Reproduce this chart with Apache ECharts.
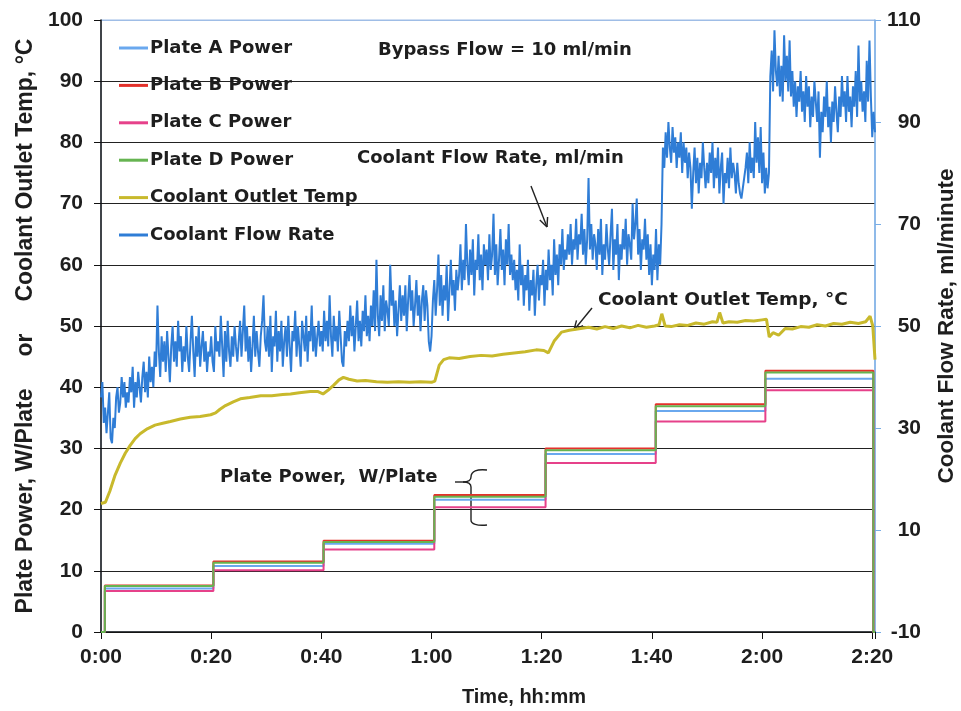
<!DOCTYPE html>
<html><head><meta charset="utf-8">
<script src="https://cdn.jsdelivr.net/npm/echarts@6/dist/echarts.min.js"></script>
<style>html,body{margin:0;padding:0;background:#fff}#c{width:961px;height:711px}</style>
</head><body><div id="c"></div>
<script>
// ---- data (time in minutes) ----
const powerTimes = [0, 0.7, 20.4, 40.4, 60.5, 80.7, 100.7, 120.6, 140.2, 140.5];
const plateA = [0, 7.1, 10.8, 14.4, 21.6, 29.1, 36.1, 41.4, 0, 0];
const plateB = [0, 7.6, 11.5, 14.9, 22.4, 30.0, 37.2, 42.7, 0, 0];
const plateC = [0, 6.7, 10.1, 13.5, 20.4, 27.6, 34.4, 39.5, 0, 0];
const plateD = [0, 7.5, 11.3, 14.7, 22.1, 29.7, 36.9, 42.4, 0, 0];

const tempTimes = [0, 0.8, 1.6, 2.5, 3.5, 4.4, 5.3, 6.2, 7.1, 8.4, 9.8, 11.2, 12.6, 14.4, 16.2, 18, 19.9, 20.8, 21.6, 22.6,
  24, 25.3, 27, 29, 31, 33, 34.4, 36, 38, 39.3, 40.3, 41.2, 42.2, 43.2, 44, 45, 46.5, 48, 50, 52,
  54, 56, 58, 60, 60.6, 61.4, 62.2, 63.2, 65, 67, 69, 71, 73, 75, 77, 79, 80.4, 81.2, 82.3, 83.6,
  85, 86.5, 88.5, 90, 91.5, 93, 94.5, 96, 97.5, 99, 100.5, 101.3, 101.8, 102.4, 103.5, 105, 106.5, 108, 109.5, 111,
  111.8, 112.3, 112.9, 114, 115.5, 117, 118.5, 120, 120.8, 121.3, 122, 123, 124.2, 125.5, 127, 128.5, 130, 131.5, 133, 134.5,
  136, 137.5, 138.8, 139.6, 140.1, 140.5];
const tempValues = [21.0, 21.2, 23.0, 25.5, 27.6, 29.2, 30.5, 31.6, 32.4, 33.2, 33.8, 34.1, 34.4, 34.8, 35.1, 35.2, 35.5, 35.8, 36.4, 37.0,
  37.6, 38.1, 38.3, 38.6, 38.6, 38.8, 38.9, 39.1, 39.3, 39.3, 38.9, 39.5, 40.3, 41.2, 41.6, 41.3, 41.0, 41.1, 40.9, 40.8,
  40.9, 40.8, 40.9, 40.8, 41.0, 43.6, 44.5, 44.8, 44.7, 45.0, 45.2, 45.1, 45.4, 45.6, 45.8, 46.1, 46.0, 45.6, 47.6, 49.0,
  49.3, 49.5, 49.8, 49.5, 49.9, 49.6, 50.0, 49.7, 50.1, 49.8, 50.0, 50.2, 52.0, 50.0, 49.9, 50.2, 50.1, 50.5, 50.3, 50.7,
  50.6, 52.2, 50.5, 50.7, 50.6, 50.9, 50.8, 51.0, 51.1, 48.2, 48.9, 48.5, 49.6, 49.5, 49.9, 49.8, 50.2, 50.0, 50.4, 50.3,
  50.6, 50.4, 50.7, 51.6, 50.0, 44.5];

// flow rate, ml/min, sampled every 0.25 min from 0:00 (one row = 5 minutes)
const flowStart = 0, flowStep = 0.25;
const flowValues = [
  36, 39, 31, 34, 29, 33, 37, 28, 27, 32, 30, 36, 38, 33, 35, 40, 36, 39, 34, 37,
  35, 40, 37, 42, 34, 39, 36, 41, 38, 35, 40, 43, 37, 41, 36, 44, 39, 42, 38, 45,
  42, 54, 45, 40, 48, 43, 47, 41, 49, 44, 39, 46, 50, 43, 47, 42, 51, 45, 48, 41,
  46, 43, 50, 44, 41, 47, 52, 45, 40, 48, 44, 50, 42, 46, 49, 43, 47, 41, 45, 44,
  48, 43, 41, 50, 45, 47, 44, 52, 46, 40, 49, 43, 51, 45, 42, 48, 44, 50, 46, 43,
  47, 51, 44, 49, 54, 45, 50, 43, 48, 41, 46, 52, 44, 49, 45, 42, 48, 51, 56, 47,
  45, 50, 44, 52, 41, 48, 46, 53, 43, 49, 45, 51, 42, 47, 50, 44, 52, 46, 41, 49,
  47, 53, 44, 50, 46, 42, 51, 48, 45, 52, 43, 49, 47, 54, 45, 50, 44, 48, 51, 46,
  49, 45, 53, 47, 51, 46, 56, 48, 44, 52, 47, 50, 45, 53, 48, 43, 42, 49, 46, 51,
  47, 54, 48, 52, 45, 50, 55, 47, 51, 46, 53, 49, 56, 48, 52, 47, 54, 50, 57, 49,
  63, 52, 48, 56, 51, 58, 49, 55, 53, 50, 62, 54, 57, 50, 55, 48, 53, 58, 51, 56,
  52, 58, 49, 55, 60, 53, 57, 50, 54, 59, 52, 56, 49, 55, 58, 51, 57, 54, 47, 45,
  48, 55, 59, 52, 57, 64, 54, 60, 52, 58, 55, 62, 51, 57, 63, 56, 59, 53, 61, 57,
  60, 66, 57, 63, 59, 70, 62, 58, 65, 60, 67, 56, 63, 61, 68, 59, 64, 57, 66, 62,
  65, 59, 68, 61, 64, 72, 60, 66, 58, 63, 69, 61, 65, 58, 67, 62, 70, 60, 64, 59,
  63, 57, 61, 55, 66, 58, 62, 54, 60, 57, 63, 53, 59, 56, 61, 52, 58, 62, 55, 60,
  58, 63, 54, 61, 57, 65, 59, 62, 56, 67, 60, 64, 58, 66, 62, 69, 61, 65, 63, 68,
  64, 70, 62, 67, 65, 71, 63, 68, 66, 72, 64, 69, 62, 67, 79, 65, 70, 63, 68, 66,
  61, 69, 64, 71, 60, 66, 63, 70, 65, 62, 68, 73, 61, 67, 64, 70, 59, 66, 63, 69,
  65, 71, 62, 68, 66, 63, 74, 67, 70, 75, 64, 69, 61, 67, 65, 71, 63, 68, 60, 66,
  58, 64, 61, 69, 59, 66, 62, 70, 85, 81, 88, 83, 90, 85, 82, 89, 84, 87, 81, 86,
  83, 88, 80, 86, 82, 85, 79, 84, 81, 73, 80, 85, 78, 83, 76, 82, 79, 86, 81, 77,
  82, 78, 84, 80, 86, 77, 83, 79, 85, 76, 81, 84, 74, 80, 78, 83, 77, 85, 79, 82,
  80, 76, 82, 78, 76, 75, 77, 79, 81, 84, 78, 86, 80, 83, 79, 90, 82, 87, 80, 89,
  78, 84, 76, 81, 77, 80, 99, 104, 96, 108, 100, 97, 103, 95, 101, 94, 107, 98, 103, 96,
  106, 95, 100, 93, 98, 91, 97, 94, 100, 92, 96, 90, 99, 93, 97, 89, 95, 91, 98, 94,
  90, 96, 83, 92, 88, 95, 91, 98, 89, 93, 86, 94, 90, 97, 92, 88, 95, 91, 99, 93,
  96, 90, 99, 92, 95, 89, 97, 93, 100, 91, 105, 94, 98, 92, 96, 90, 102, 94, 106, 95,
  87, 92, 88];

const xTickLabels = ['0:00', '0:20', '0:40', '1:00', '1:20', '1:40', '2:00', '2:20'];
const seriesNames = ['Plate A Power', 'Plate B Power', 'Plate C Power', 'Plate D Power', 'Coolant Outlet Temp', 'Coolant Flow Rate'];

// ---- build ----
const FONT = '"Liberation Sans", Arial, Helvetica, sans-serif';
const WIDE = '"DejaVu Sans", "Liberation Sans", sans-serif';
const zip = (xs, ys) => xs.map((x, i) => [x, ys[i]]);
const flowData = flowValues.map((v, i) => [flowStart + i * flowStep, v]);

const colors = {
  a: '#6aa8ee', b: '#e4312b', c: '#e6418a', d: '#66b451', temp: '#c8b92c', flow: '#2f7dd6'
};

function powerSeries(name, data, color) {
  return {
    name, type: 'line', step: 'end', yAxisIndex: 0, symbol: 'none', data: zip(powerTimes, data),
    lineStyle: { color, width: 2 }, itemStyle: { color }
  };
}
const ink = { stroke: '#222', lineWidth: 1.4, fill: null };
function txt(x, y, s, size) {
  return { type: 'text', x, y, style: { text: s, font: 'bold ' + (size || 18) + 'px ' + WIDE, fill: '#1e1e1e', verticalAlign: 'middle' } };
}
function seg(x1, y1, x2, y2) { return { type: 'line', shape: { x1, y1, x2, y2 }, style: ink }; }
function bez(x1, y1, cpx1, cpy1, cpx2, cpy2, x2, y2) {
  return { type: 'bezierCurve', shape: { x1, y1, cpx1, cpy1, cpx2, cpy2, x2, y2 }, style: ink };
}

const chart = echarts.init(document.getElementById('c'), null, { renderer: 'canvas' });
chart.setOption({
  animation: false,
  backgroundColor: '#ffffff',
  textStyle: { fontFamily: FONT },
  grid: {
    left: 101, right: 86, top: 20, bottom: 79, containLabel: false, outerBoundsMode: 'none',
    show: true, borderColor: '#9fbde6', borderWidth: 1, backgroundColor: 'transparent'
  },
  legend: {
    orient: 'vertical', left: 114, top: 34, itemWidth: 29, itemHeight: 3, itemGap: 19.4, icon: 'rect',
    data: seriesNames,
    textStyle: { fontFamily: WIDE, fontSize: 18, fontWeight: 'bold', color: '#1e1e1e', padding: [0, 0, 0, -3] }
  },
  xAxis: {
    type: 'value', min: 0, max: 140.5, interval: 20,
    name: 'Time, hh:mm', nameLocation: 'middle', nameGap: 55,
    nameTextStyle: { fontFamily: FONT, fontSize: 20, fontWeight: 'bold', color: '#1e1e1e', padding: [0, 0, 0, 72] },
    axisLine: { show: true, lineStyle: { color: '#111', width: 1.5 } },
    axisTick: { show: true, inside: false, length: 7, lineStyle: { color: '#111' } },
    splitLine: { show: false },
    axisLabel: {
      margin: 15, fontFamily: FONT, fontSize: 21, fontWeight: 'bold', color: '#1e1e1e',
      formatter: v => (Math.abs(v % 20) < 1e-9 ? xTickLabels[Math.round(v / 20)] : '')
    }
  },
  yAxis: [{
    type: 'value', min: 0, max: 100, interval: 10, position: 'left',
    name: 'Plate Power, W/Plate     or     Coolant Outlet Temp, °C', nameLocation: 'middle', nameRotate: 90, nameGap: 64,
    nameTextStyle: { fontFamily: FONT, fontSize: 23, fontWeight: 'bold', color: '#1e1e1e' },
    axisLine: { show: true, lineStyle: { color: '#111', width: 1.5 } },
    axisTick: { show: true, inside: false, length: 7, lineStyle: { color: '#111' } },
    splitLine: { show: true, lineStyle: { color: ['#222', '#222', '#222', '#222', '#222', '#222', '#222', '#222', '#222', '#222', '#9fbde6'], width: 1 } },
    axisLabel: { margin: 18, fontFamily: FONT, fontSize: 21, fontWeight: 'bold', color: '#1e1e1e' }
  }, {
    type: 'value', min: -10, max: 110, interval: 20, position: 'right',
    name: 'Coolant Flow Rate, ml/minute', nameLocation: 'middle', nameRotate: 90, nameGap: 60,
    nameTextStyle: { fontFamily: FONT, fontSize: 22.5, fontWeight: 'bold', color: '#1e1e1e' },
    axisLine: { show: true, lineStyle: { color: '#7aaee6', width: 1.5 } },
    axisTick: { show: true, inside: false, length: 6, lineStyle: { color: '#7aaee6' } },
    splitLine: { show: false },
    axisLabel: { margin: 46, align: 'right', fontFamily: FONT, fontSize: 21, fontWeight: 'bold', color: '#1e1e1e' }
  }],
  series: [
    powerSeries(seriesNames[0], plateA, colors.a),
    powerSeries(seriesNames[1], plateB, colors.b),
    powerSeries(seriesNames[2], plateC, colors.c),
    powerSeries(seriesNames[3], plateD, colors.d),
    {
      name: seriesNames[4], type: 'line', yAxisIndex: 0, symbol: 'none', data: zip(tempTimes, tempValues),
      lineStyle: { color: colors.temp, width: 3 }, itemStyle: { color: colors.temp }
    },
    {
      name: seriesNames[5], type: 'line', yAxisIndex: 1, symbol: 'none', data: flowData,
      lineStyle: { color: colors.flow, width: 2 }, itemStyle: { color: colors.flow }
    }
  ],
  graphic: [
    txt(378, 50, 'Bypass Flow = 10 ml/min'),
    txt(357, 158, 'Coolant Flow Rate, ml/min'),
    seg(531, 186, 547, 227),
    seg(547.6, 217, 547, 227), seg(539.8, 220.1, 547, 227),
    txt(598, 300, 'Coolant Outlet Temp, °C', 18.5),
    seg(592, 308, 574, 330),
    seg(583, 325.7, 574, 330), seg(576.5, 320.3, 574, 330),
    txt(220, 477, 'Plate Power,  W/Plate'),
    seg(455, 482, 463, 482),
    bez(487, 470, 477, 469, 471, 471, 471, 477),
    bez(471, 477, 471, 481, 468, 482, 463, 482),
    bez(463, 482, 468, 482, 471, 483, 471, 487),
    seg(471, 487, 471, 520),
    bez(471, 520, 471, 524, 477, 526, 487, 525)
  ]
});
</script>
</body></html>
